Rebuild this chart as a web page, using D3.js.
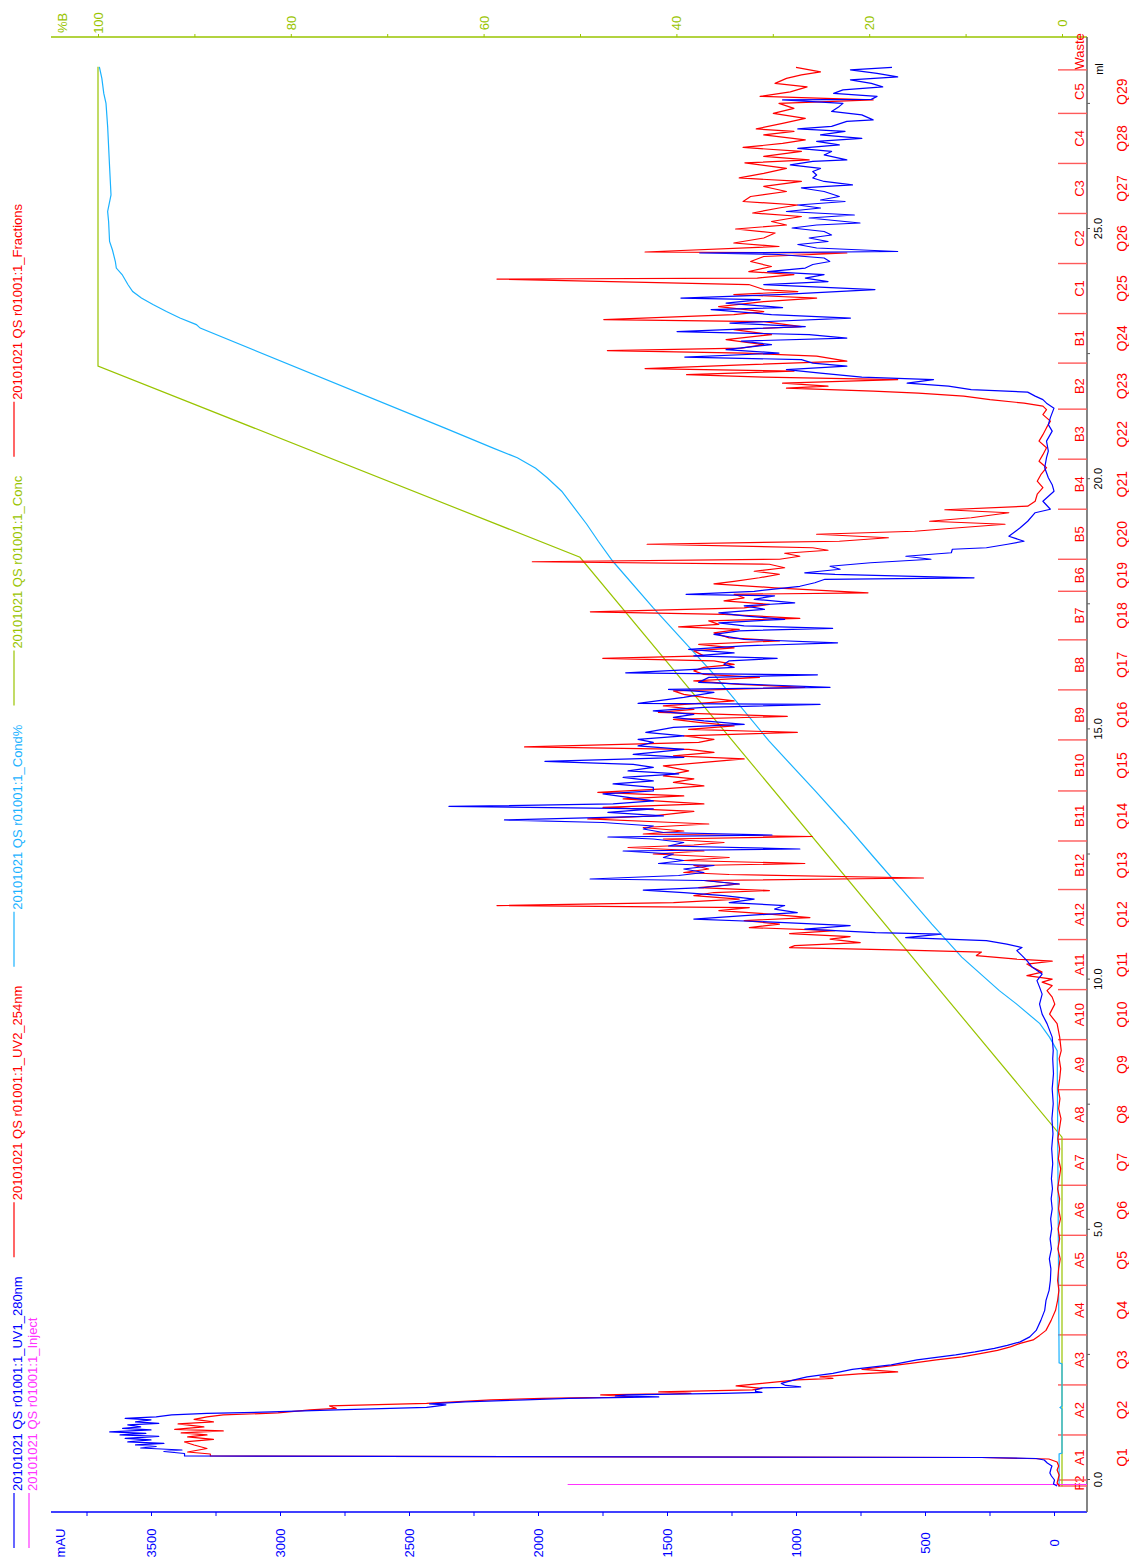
<!DOCTYPE html>
<html><head><meta charset="utf-8">
<script src="https://cdn.jsdelivr.net/npm/d3@7"></script>
<style>body{margin:0;background:#fff}svg{display:block}text{font-family:"Liberation Sans",Arial,sans-serif}</style>
</head><body><svg id="c" width="1129" height="1561"></svg>
<script>
// ---- data: [ml, value] ----
const uv280 = [[-0.14,-12],[-0.10,2],[-0.02,-2],[0.06,10],[0.12,16],[0.20,12],[0.26,8],[0.32,26],[0.38,38],[0.41,69],[0.43,281],[0.46,3370],
[0.51,3370],[0.55,3450],[0.58,3380],[0.62,3540],[0.65,3480],[0.68,3560],[0.71,3450],[0.74,3590],[0.78,3500],[0.81,3600],[0.85,3470],[0.88,3620],[0.91,3520],[0.94,3660],[0.98,3500],[1.01,3610],[1.04,3540],[1.08,3590],[1.11,3470],[1.14,3560],[1.18,3500],[1.21,3600],[1.24,3480],[1.28,3420],
[1.31,3283],[1.34,3033],[1.38,2782],[1.43,2432],[1.45,2400],[1.48,2357],[1.50,2420],[1.54,2282],[1.58,2050],[1.61,1882],[1.64,1532],[1.66,1700],[1.68,1657],[1.71,1282],[1.73,1132],[1.75,1157],[1.78,1157],[1.82,1132],[1.84,982],[1.87,1040],[1.91,1057],[1.98,1007],[2.04,957],[2.11,857],[2.19,782],[2.28,631],[2.38,531],[2.48,381],[2.54,306],[2.61,231],[2.67,181],[2.74,131],[2.84,94],[2.97,69],[3.17,51],[3.37,36],[3.57,31],[3.77,19],[3.97,14],
[4.2,12],[4.4,18],[4.6,10],[4.8,15],[5.0,9],[5.2,13],[5.4,7],[5.6,11],[5.8,6],[6.0,10],[6.3,5],[6.6,9],[6.9,4],[7.2,8],[7.5,3],[7.8,7],[8.1,2],[8.4,5],[8.56,3],
[8.83,7],[9.10,27],[9.29,46],[9.49,56],[9.69,46],[9.83,56],[9.96,66],[10.09,46],[10.23,85],[10.36,105],[10.46,124],[10.56,144],[10.62,124],[10.69,183],[10.76,262],[10.82,575],[10.89,438],[10.92,692],[10.99,966],[11.06,790],[11.12,1044],[11.19,1396],[11.26,1201],[11.32,995],[11.39,1083],[11.46,1044],[11.52,1259],[11.59,1162],[11.66,1279],[11.72,1435],[11.77,1592],[11.82,1357],[11.89,1220],[11.96,1357],[11.99,1798],[12.06,1455],[12.12,1357],[12.19,1435],[12.26,1318],[12.30,1533],[12.36,1435],[12.42,1514],[12.49,1475],[12.55,1670],[12.59,985],[12.65,1494],[12.72,1435],[12.79,1553],[12.83,1729],[12.87,1093],[12.92,1514],[12.99,1592],[13.05,1553],[13.12,1748],[13.17,2130],[13.25,1514],[13.32,1729],[13.39,1553],[13.44,2345],[13.49,1709],[13.55,1553],[13.62,1651],[13.69,1748],[13.75,1553],
[13.82,1553],[13.89,1709],[13.95,1553],[14.02,1670],[14.09,1455],[14.15,1651],[14.22,1553],[14.28,1631],[14.34,1973],[14.42,1435],[14.48,1631],[14.58,1435],[14.65,1612],[14.72,1553],[14.78,1612],[14.85,1435],[14.92,1582],[15.02,1475],[15.08,1201],[15.15,1357],[15.22,1475],[15.28,1396],[15.35,1553],[15.42,1357],[15.48,907],[15.50,1612],[15.62,1435],[15.72,1318],[15.78,1494],[15.82,868],[15.92,1377],[16.02,1338],[16.07,917],[16.11,1660],[16.22,1240],[16.28,1279],[16.35,1259],[16.40,1073],[16.45,1396],[16.51,1240],[16.58,1416],[16.65,1201],[16.71,839],[16.78,1201],[16.88,1318],[16.95,1220],[17.00,858],[17.05,1201],[17.11,1299],[17.18,1044],[17.25,1201],[17.31,1299],[17.38,1122],[17.45,1201],[17.51,1005],[17.58,1162],[17.65,1083],[17.68,1426],[17.74,1162],[17.84,985],[17.91,927],[17.98,888],[18.01,310],[18.08,849],[18.11,966],[18.18,829],[18.24,868],[18.31,711],[18.38,477],[18.44,574],[18.51,398],[18.58,394],[18.61,262],[18.68,180],[18.74,116],[18.84,175],[19.01,131],[19.14,102],[19.31,73],[19.38,14],[19.54,43],[19.74,0],[19.87,7],[20.01,22],[20.21,36],[20.41,29],[20.54,22],[20.74,29],[20.94,7],[21.07,22],[21.21,14],[21.40,0],[21.50,29],[21.57,43],[21.64,73],[21.72,102],[21.77,321],[21.84,409],[21.90,569],[21.97,467],[22.02,745],[22.10,905],[22.17,1037],[22.24,803],[22.30,935],[22.37,979],[22.42,1431],[22.50,1066],[22.57,1271],[22.67,1095],[22.74,1212],[22.80,803],[22.87,949],[22.93,1461],[23.03,964],[23.10,1256],[23.20,789],[23.27,1095],[23.37,1329],[23.41,1052],[23.50,1271],[23.57,1139],[23.60,1446],[23.67,1066],[23.77,694],[23.87,1125],[23.93,876],[24.00,964],[24.07,891],[24.13,1110],[24.20,964],[24.27,935],[24.33,869],[24.40,891],[24.47,1066],[24.50,1373],[24.53,606],[24.60,920],[24.67,993],[24.73,876],[24.80,949],[24.86,862],[24.93,891],[25.00,1015],[25.06,920],[25.10,752],[25.20,949],[25.26,774],[25.33,1037],[25.40,905],[25.46,993],[25.53,810],[25.56,905],[25.63,832],[25.73,891],[25.80,979],[25.86,781],[25.93,891],[26.00,935],[26.06,920],[26.13,935],[26.19,905],[26.26,1022],[26.33,935],[26.36,803],[26.46,891],[26.53,862],[26.59,993],[26.66,832],[26.73,920],[26.79,745],[26.86,905],[26.93,810],[26.98,993],[27.03,862],[27.13,803],[27.16,701],[27.26,745],[27.33,862],[27.43,832],[27.49,818],[27.56,1052],[27.57,708],[27.63,686],[27.69,854],[27.76,818],[27.82,664],[27.89,708],[27.96,789],[28.02,606],[28.09,686],[28.16,789],[28.21,628]];

const uv254 = [[-0.14,-22],[-0.08,-12],[-0.02,-15],[0.08,-20],[0.18,-12],[0.26,-18],[0.34,-12],[0.40,20],[0.43,281],[0.46,3270],
[0.50,3270],[0.54,3358],[0.61,3283],[0.68,3333],[0.74,3370],[0.79,3258],[0.84,3358],[0.88,3283],[0.92,3383],[0.96,3220],[0.99,3408],[1.04,3295],[1.10,3395],[1.14,3258],[1.19,3333],[1.24,3283],[1.28,3220],[1.32,3008],[1.38,2883],[1.41,2782],[1.46,2808],[1.51,2432],[1.58,2182],[1.61,1982],[1.64,1632],[1.68,1757],[1.71,1407],[1.74,1532],[1.78,1169],[1.81,1132],[1.86,1232],[1.91,1132],[1.98,994],[2.01,857],[2.04,907],[2.10,756],[2.14,606],[2.19,744],[2.23,681],[2.31,556],[2.38,456],[2.44,356],[2.51,281],[2.57,219],[2.64,169],[2.71,131],[2.78,81],[2.87,56],[2.97,31],[3.17,11],[3.37,-6],[3.57,-14],[3.77,-19],[3.97,-14],
[4.2,-18],[4.4,-24],[4.6,-15],[4.8,-22],[5.0,-16],[5.2,-25],[5.4,-18],[5.6,-22],[5.8,-14],[6.0,-20],[6.2,-26],[6.4,-17],[6.6,-22],[6.8,-15],[7.0,-21],[7.2,-27],[7.4,-18],[7.6,-23],[7.8,-16],[8.0,-22],[8.2,-26],[8.4,-20],[8.56,-28],
[8.83,-22],[9.10,-12],[9.29,17],[9.49,-3],[9.63,7],[9.76,27],[9.86,7],[9.93,46],[9.99,7],[10.06,105],[10.13,46],[10.23,85],[10.29,105],[10.35,7],[10.39,144],[10.46,301],[10.53,281],[10.57,575],[10.62,1025],[10.66,1005],[10.72,751],[10.79,868],[10.84,790],[10.90,1025],[10.96,849],[11.02,1181],[11.09,1064],[11.16,1201],[11.22,946],[11.29,1103],[11.36,1299],[11.42,1181],[11.46,2159],[11.52,1475],[11.59,1220],[11.66,1396],[11.72,1318],[11.76,1103],[11.82,1377],[11.89,1220],[11.96,1357],[12.01,506],[12.08,1259],[12.12,1435],[12.19,1338],[12.26,1396],[12.30,966],[12.36,1435],[12.42,1259],[12.49,1553],[12.55,1357],[12.62,1651],[12.67,1396],[12.72,1279],[12.79,1514],[12.84,937],[12.89,1592],[12.95,1435],[13.02,1592],[13.09,1338],[13.12,1475],[13.19,1807],[13.25,1553],[13.34,1396],[13.42,1748],[13.49,1357],[13.59,1670],[13.65,1435],[13.72,1768],[13.79,1514],[13.85,1357],[13.92,1475],[13.99,1396],[14.05,1514],[14.15,1416],[14.25,1514],[14.32,1357],[14.39,1201],[14.45,1475],[14.52,1318],[14.58,1416],[14.63,2052],[14.72,1377],[14.78,1318],[14.85,1435],[14.92,995],[14.98,1416],[15.05,1240],[15.12,1377],[15.18,1475],[15.24,1034],[15.32,1533],[15.38,1396],[15.45,1514],[15.55,1240],[15.62,1357],[15.68,1435],[15.75,1475],[15.82,966],[15.88,1220],[15.95,1396],[16.02,1142],[16.08,1357],[16.15,1396],[16.22,1357],[16.28,1240],[16.35,1318],[16.40,1749],[16.45,1357],[16.55,1396],[16.61,1240],[16.68,1377],[16.75,1064],[16.81,1259],[16.91,1318],[16.98,1220],[17.03,1455],[17.08,1299],[17.15,1338],[17.20,985],[17.28,1279],[17.33,1797],[17.41,1201],[17.48,1103],[17.55,1279],[17.61,1201],[17.68,1240],[17.71,721],[17.81,1083],[17.89,1318],[17.94,1240],[18.01,1142],[18.08,1064],[18.14,1162],[18.21,1044],[18.28,1103],[18.33,2022],[18.38,1064],[18.44,985],[18.50,1044],[18.56,876],[18.61,935],[18.68,1577],[18.74,832],[18.81,642],[18.88,920],[18.94,540],[19.00,394],[19.08,190],[19.14,482],[19.21,321],[19.31,175],[19.37,423],[19.44,102],[19.54,73],[19.68,65],[19.81,43],[19.94,65],[20.07,51],[20.21,29],[20.34,58],[20.47,43],[20.61,29],[20.74,58],[20.87,43],[21.01,29],[21.14,14],[21.27,43],[21.37,29],[21.44,43],[21.50,116],[21.57,248],[21.64,350],[21.70,526],[21.74,701],[21.80,1037],[21.84,876],[21.90,1052],[21.97,606],[22.02,1125],[22.07,1424],[22.14,1008],[22.19,1585],[22.27,1183],[22.34,803],[22.44,920],[22.50,1198],[22.55,1731],[22.60,1212],[22.67,1125],[22.77,1271],[22.87,1095],[22.97,1241],[23.03,979],[23.13,1125],[23.17,1745],[23.27,1241],[23.33,1125],[23.43,1300],[23.53,1125],[23.60,920],[23.67,1241],[23.73,993],[23.77,1125],[23.87,1183],[23.98,2159],[24.00,1150],[24.07,1008],[24.13,1183],[24.23,1095],[24.33,1176],[24.43,1125],[24.50,803],[24.52,1585],[24.63,1066],[24.70,1241],[24.80,1125],[24.90,1081],[24.98,1234],[25.06,1037],[25.13,1095],[25.23,979],[25.30,1168],[25.40,1066],[25.46,993],[25.53,1205],[25.63,1176],[25.73,1037],[25.83,1125],[25.93,979],[26.00,1220],[26.09,1125],[26.19,1037],[26.30,1198],[26.36,949],[26.43,1125],[26.53,979],[26.61,1205],[26.69,1052],[26.76,964],[26.86,1125],[26.93,1008],[26.98,1154],[27.09,1052],[27.19,964],[27.29,1088],[27.39,1008],[27.49,1066],[27.56,701],[27.63,1139],[27.72,1022],[27.82,957],[27.89,1081],[27.99,1037],[28.06,979],[28.12,905],[28.21,1000]];

const cond = [[-0.15,0.3],[0.5,0.3],[0.52,0],[1.40,0],[1.43,0.2],[1.46,0],[2.30,0],[2.32,0.3],[8.56,0.5],[8.83,1.3],[9.10,2.3],[9.49,4.7],[9.76,6.5],[10.43,10.4],[11.09,13.5],[11.76,16.5],[12.42,19.5],[13.09,22.5],[13.75,25.6],[14.75,30.4],[16.08,36.1],[17.41,42.4],[18.34,46.6],[18.74,48.1],[19.08,49.3],[19.74,51.9],[20.01,53.4],[20.20,54.6],[20.41,56.5],[20.60,59.0],[21.00,64.0],[23.00,89.4],[23.07,89.8],[23.20,91.5],[23.33,92.9],[23.47,94.3],[23.60,95.5],[23.73,96.4],[23.87,96.9],[24.07,97.5],[24.20,98.1],[24.33,98.2],[24.56,98.5],[24.73,98.8],[25.13,98.9],[25.33,99.0],[25.66,98.65],[26.23,98.8],[27.03,99.0],[27.49,99.17],[27.69,99.4],[27.99,99.6],[28.22,99.86]];

const conc = [[-0.15,0],[6.83,0],[18.42,50],[22.24,100],[28.22,100]];

const injectMl = [-0.09];
const injectTop = [1885];

const fracStarts = [-0.14,-0.02,0.88,1.88,2.88,3.87,4.87,5.87,6.79,7.78,8.78,9.78,10.78,11.78,12.75,13.75,14.77,15.77,16.77,17.74,18.38,19.38,20.38,21.38,22.30,23.29,24.29,25.29,26.29,27.29,28.16];
const fracEnd = 28.9;
const fracLabels = ["F2","A1","A2","A3","A4","A5","A6","A7","A8","A9","A10","A11","A12","B12","B11","B10","B9","B8","B7","B6","B5","B4","B3","B2","B1","C1","C2","C3","C4","C5","Waste"];
const rackLabels = d3.range(1,30).map(i=>"Q"+i);

const mauTicks = d3.range(0,3751,250);
const pctTicks = d3.range(0,101,10);
const mlTicks = d3.range(0,28.1,2.5);

const legendCols = [
  [{t:"20101021 QS r01001:1_UV1_280nm",c:"#0000ff"},{t:"20101021 QS r01001:1_Inject",c:"#ff33ff"}],
  [{t:"20101021 QS r01001:1_UV2_254nm",c:"#ff0000"}],
  [{t:"20101021 QS r01001:1_Cond%",c:"#1ab2ff"}],
  [{t:"20101021 QS r01001:1_Conc",c:"#99c400"}],
  [{t:"20101021 QS r01001:1_Fractions",c:"#ff0000"}]
];

// ---- drawing ----
const svg = d3.select("#c");
const L=51, R=1087, T=37, B=1512;
const BLUE="#0000ff", RED="#ff0000", CYAN="#1ab2ff", GREEN="#99c400", MAG="#ff33ff";
const x = d3.scaleLinear().domain([0,3500]).range([1054,151]);
const xp = d3.scaleLinear().domain([0,100]).range([1062,98]);
const y = d3.scaleLinear().domain([0,25]).range([1479,228]);

// mAU axis (bottom)
const gA = svg.append("g").attr("transform",`translate(0,${B})`)
  .call(d3.axisBottom(x).tickValues(mauTicks).tickSize(4).tickFormat(d=>d%500===0?d:""));
gA.select(".domain").remove();
gA.selectAll("line").attr("stroke",BLUE);
gA.selectAll("text").attr("transform","rotate(-90)").attr("x",-31).attr("y",0).attr("dy","0.35em")
  .attr("text-anchor","middle").attr("fill",BLUE).attr("font-size",13).attr("font-family","Liberation Sans, Arial");
svg.append("line").attr("x1",L).attr("x2",R).attr("y1",B).attr("y2",B).attr("stroke",BLUE).attr("stroke-width",1.5);
svg.append("text").attr("transform",`translate(60,1543) rotate(-90)`).attr("dy","0.35em").attr("text-anchor","middle")
  .attr("fill",BLUE).attr("font-size",13).text("mAU");

// %B axis (top)
const gP = svg.append("g").attr("transform",`translate(0,${T})`)
  .call(d3.axisTop(xp).tickValues(pctTicks).tickSize(3).tickFormat(d=>d%20===0?d:""));
gP.select(".domain").remove();
gP.selectAll("line").attr("stroke",GREEN);
gP.selectAll("text").attr("transform","rotate(-90)").attr("x",14).attr("y",0).attr("dy","0.35em")
  .attr("text-anchor","middle").attr("fill",GREEN).attr("font-size",13).attr("font-family","Liberation Sans, Arial");
svg.append("line").attr("x1",L).attr("x2",R).attr("y1",T).attr("y2",T).attr("stroke",GREEN).attr("stroke-width",1.5);
svg.append("text").attr("transform",`translate(62,23) rotate(-90)`).attr("dy","0.35em").attr("text-anchor","middle")
  .attr("fill",GREEN).attr("font-size",13).text("%B");

// ml axis (right)
const gM = svg.append("g").attr("transform",`translate(${R},0)`)
  .call(d3.axisRight(y).tickValues(mlTicks).tickSize(3).tickFormat(d=>d%5===0?d3.format(".1f")(d):""));
gM.select(".domain").remove();
gM.selectAll("line").attr("stroke","#555");
gM.selectAll("text").attr("transform","translate(11,0) rotate(-90)").attr("x",0).attr("y",0).attr("dy","0.35em")
  .attr("text-anchor","middle").attr("fill","#000").attr("font-size",11).attr("font-family","Liberation Sans, Arial");
svg.append("line").attr("x1",R).attr("x2",R).attr("y1",T).attr("y2",B).attr("stroke","#666").attr("stroke-width",1.6);
svg.append("text").attr("transform",`translate(1099,69) rotate(-90)`).attr("dy","0.35em").attr("text-anchor","middle")
  .attr("fill","#000").attr("font-size",11).text("ml");

// fractions
const fr = svg.append("g");
fracStarts.forEach((s,i)=>{
  fr.append("line").attr("x1",1058).attr("x2",R).attr("y1",y(s)).attr("y2",y(s)).attr("stroke","#ff5a5a").attr("stroke-width",1.4);
  const e = i<fracStarts.length-1 ? fracStarts[i+1] : fracEnd;
  const m = y((s+e)/2);
  fr.append("text").attr("transform",`translate(1079,${m}) rotate(-90)`).attr("dy","0.35em").attr("text-anchor","middle")
    .attr("fill",RED).attr("font-size",13).text(fracLabels[i]);
  if(i>=1 && i<=29){
    fr.append("text").attr("transform",`translate(1122,${m}) rotate(-90)`).attr("dy","0.35em").attr("text-anchor","middle")
      .attr("fill",RED).attr("font-size",14).text(rackLabels[i-1]);
  }
});

// curves
const lineAU = d3.line().x(d=>x(d[1])).y(d=>y(d[0]));
const lineP = d3.line().x(d=>xp(d[1])).y(d=>y(d[0]));
svg.append("path").datum(conc).attr("d",lineP).attr("fill","none").attr("stroke",GREEN).attr("stroke-width",1.2);
svg.append("path").datum(cond).attr("d",lineP).attr("fill","none").attr("stroke",CYAN).attr("stroke-width",1.2);
injectMl.forEach((m,i)=>{
  svg.append("line").attr("x1",x(injectTop[i])).attr("x2",R).attr("y1",Math.round(y(m))+0.5).attr("y2",Math.round(y(m))+0.5).attr("stroke",MAG).attr("stroke-width",1);
});
svg.append("path").datum(uv254).attr("d",lineAU).attr("fill","none").attr("stroke",RED).attr("stroke-width",1.2).attr("stroke-linejoin","round");
svg.append("path").datum(uv280).attr("d",lineAU).attr("fill","none").attr("stroke",BLUE).attr("stroke-width",1.2).attr("stroke-linejoin","round");

// legend (rotated)
const leg = svg.append("g").attr("transform","translate(0,1561) rotate(-90)");
let u = 13;
legendCols.forEach(col=>{
  let w = 0;
  col.forEach((it,row)=>{
    const v = 14 + row*15;
    leg.append("line").attr("x1",u).attr("x2",u+55).attr("y1",v).attr("y2",v).attr("stroke",it.c).attr("stroke-width",1.2);
    const t = leg.append("text").attr("x",u+57).attr("y",v+8).attr("fill",it.c).attr("font-size",13).text(it.t);
    w = Math.max(w, t.node().getComputedTextLength());
  });
  u += 57 + w + 19;
});
</script></body></html>
